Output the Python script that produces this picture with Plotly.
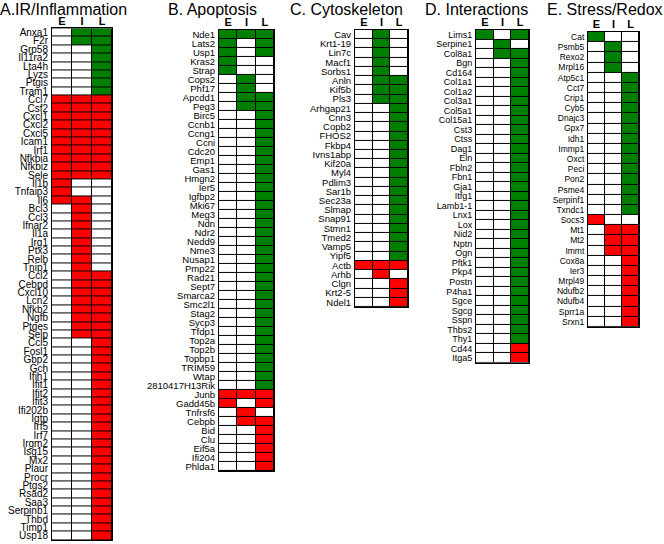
import plotly.graph_objects as go

# ---------------- data ----------------
# codes: 0 = no change (white), 1 = green, 2 = red
columns = ["E", "I", "L"]

a_title = "A.IR/Inflammation"
a_genes = ["Anxa1", "F2r", "Grp58", "Il11ra2", "Lta4h", "Lyzs", "Ptgis", "Tram1",
           "Ccl7", "Csf2", "Cxcl1", "Cxcl2", "Cxcl5", "Icam1", "Irf1", "Nfkbia", "Nfkbiz", "Sele",
           "Il1b", "Tnfaip3", "Il6",
           "Bcl3", "Ccl3", "Ifnar2", "Il1a", "Irg1", "Ptx3", "Relb", "Tnip1",
           "Ccl2", "Cebpd", "Cxcl10", "Lcn2", "Nfkb2", "Ngfb", "Ptges", "Selp",
           "Ccl5", "Fosl1", "Gbp2", "Gch", "Ifih1", "Ifit1", "Ifit2", "Ifit3", "Ifi202b", "Igtp",
           "Irf5", "Irf7", "Irgm2", "Isg15", "Mx2", "Plaur", "Procr", "Ptgs2", "Rsad2", "Saa3",
           "Serpinb1", "Thbd", "Timp1", "Usp18"]
a_E = [0]*8 + [2]*10 + [2, 2, 2] + [0]*8 + [0]*8 + [0]*24
a_I = [1, 1] + [0]*6 + [2]*10 + [0, 0, 2] + [2]*8 + [2]*8 + [0]*24
a_L = [1]*8 + [2]*10 + [0, 0, 0] + [0]*8 + [2]*8 + [2]*24

b_title = "B. Apoptosis"
b_genes = ["Nde1", "Lats2", "Usp1", "Kras2", "Strap", "Cops2", "Phf17", "Apcdd1", "Peg3",
           "Birc5", "Ccnb1", "Ccng1", "Ccni", "Cdc20", "Emp1", "Gas1", "Hmgn2", "Ier5", "Igfbp2",
           "Mki67", "Meg3", "Ndn", "Ndr2", "Nedd9", "Nme3", "Nusap1", "Pmp22", "Rad21", "Sept7",
           "Smarca2", "Smc2l1", "Stag2", "Sycp3", "Tfdp1", "Top2a", "Top2b", "Topbp1", "TRIM59",
           "Wtap", "2810417H13Rik",
           "Junb", "Gadd45b", "Tnfrsf6", "Cebpb", "Bid", "Clu", "Eif5a", "Ifi204", "Phlda1"]
b_E = [1, 1, 1, 1, 1, 0, 0, 0, 0] + [0]*31 + [2, 2, 0, 0, 0, 0, 0, 0, 0]
b_I = [1, 0, 0, 0, 0, 1, 1, 1, 1] + [0]*31 + [2, 0, 2, 2, 0, 0, 0, 0, 0]
b_L = [1, 1, 1, 0, 0, 0, 0, 1, 1] + [1]*31 + [2, 2, 0, 2, 2, 2, 2, 2, 2]

c_title = "C. Cytoskeleton"
c_genes = ["Cav", "Krt1-19", "Lin7c", "Macf1", "Sorbs1", "Anln", "Kif5b", "Pls3",
           "Arhgap21", "Cnn3", "Copb2", "FHOS2", "Fkbp4", "Ivns1abp", "Kif20a", "Myl4", "Pdlim3",
           "Sar1b", "Sec23a", "Slmap", "Snap91", "Stmn1", "Tmed2", "Vamp5", "Yipf5",
           "Actb", "Arhb", "Clgn", "Krt2-5", "Ndel1"]
c_E = [0]*8 + [0]*17 + [2, 0, 0, 0, 0]
c_I = [1]*8 + [0]*17 + [2, 2, 0, 0, 0]
c_L = [0]*5 + [1]*3 + [1]*17 + [2, 0, 2, 2, 2]

d_title = "D. Interactions"
d_genes = ["Lims1", "Serpine1", "Col8a1", "Bgn", "Cd164", "Col1a1", "Col1a2", "Col3a1",
           "Col5a1", "Col15a1", "Cst3", "Ctss", "Dag1", "Eln", "Fbln2", "Fbn1", "Gja1", "Itfg1",
           "Lamb1-1", "Lnx1", "Lox", "Nid2", "Nptn", "Ogn", "Pftk1", "Pkp4", "Postn", "P4ha1",
           "Sgce", "Sgcg", "Sspn", "Thbs2", "Thy1", "Cd44", "Itga5"]
d_E = [1, 0, 0] + [0]*30 + [0, 0]
d_I = [0, 1, 1] + [0]*30 + [0, 0]
d_L = [1, 0, 1] + [1]*30 + [2, 2]

e_title = "E. Stress/Redox"
e_genes = ["Cat", "Psmb5", "Rexo2", "Mrpl16", "Atp5c1", "Cct7", "Crip1", "Cyb5", "Dnajc3",
           "Gpx7", "Idh1", "Immp1", "Oxct", "Peci", "Pon2", "Psme4", "Serpinf1", "Txndc1",
           "Socs3", "Mt1", "Mt2", "Immt", "Cox8a", "Ier3", "Mrpl49", "Ndufb2", "Ndufb4",
           "Sprr1a", "Srxn1"]
e_E = [1, 0, 0, 0] + [0]*14 + [2] + [0, 0, 0] + [0]*7
e_I = [0, 1, 1, 1] + [0]*14 + [0] + [2, 2, 2] + [0]*7
e_L = [0, 0, 0, 0] + [1]*14 + [0] + [2, 2, 2] + [2]*7

# ---------------- layout (pixel boxes) ----------------
W, H = 664, 544
GREEN = "#008000"
RED = "#ff0000"
FONT = "Liberation Sans, Arial, Helvetica, sans-serif"

panels = [
    # title, genes, E, I, L, grid x0, x1, y0, y1, label size, title x, title anchor
    (a_title, a_genes, a_E, a_I, a_L, 52, 112, 27.5, 541, 10, -2, "left"),
    (b_title, b_genes, b_E, b_I, b_L, 219, 274, 29, 472, 9.5, 166, "left"),
    (c_title, c_genes, c_E, c_I, c_L, 355, 408, 29, 307, 9.5, 288, "left"),
    (d_title, d_genes, d_E, d_I, d_L, 476, 529, 29, 363, 9, 423, "left"),
    (e_title, e_genes, e_E, e_I, e_L, 588, 639, 31, 327, 8.5, 665, "right"),
]

colorscale = [[0, "white"], [0.33, "white"], [0.33, GREEN], [0.67, GREEN],
              [0.67, RED], [1, RED]]

fig = go.Figure()
layout_axes = {}
annotations = []
for k, (title, genes, E, I, L, x0, x1, y0, y1, fs, tx, ta) in enumerate(panels, start=1):
    z = [[e, i, l] for e, i, l in zip(E, I, L)]
    sfx = "" if k == 1 else str(k)
    fig.add_trace(go.Heatmap(
        z=z, x=columns, y=genes, zmin=0, zmax=2, colorscale=colorscale,
        showscale=False, xgap=1, ygap=1, hoverinfo="skip",
        xaxis="x" + sfx, yaxis="y" + sfx,
    ))
    layout_axes["xaxis" + sfx] = dict(
        domain=[x0 / W, x1 / W], anchor="y" + sfx, side="top", type="category",
        tickmode="array", tickvals=columns, ticktext=["<b>%s</b>" % c for c in columns],
        tickfont=dict(family=FONT, size=11, color="black"),
        showline=True, mirror=True, linecolor="black", linewidth=1,
        showgrid=False, zeroline=False, ticks="", ticklabelstandoff=-2,
    )
    layout_axes["yaxis" + sfx] = dict(
        domain=[1 - y1 / H, 1 - y0 / H], anchor="x" + sfx, type="category",
        autorange="reversed", tickmode="array", tickvals=genes, ticktext=genes,
        tickfont=dict(family=FONT, size=fs, color="black"),
        showline=True, mirror=True, linecolor="black", linewidth=1,
        showgrid=False, zeroline=False, ticks="", ticklabelstandoff=1,
    )
    annotations.append(dict(
        text=title, xref="paper", yref="paper", x=tx / W, y=1 - 8.5 / H,
        xanchor=ta, yanchor="middle", showarrow=False,
        font=dict(family=FONT, size=16, color="black"),
    ))

fig.update_layout(
    width=W, height=H, autosize=False,
    margin=dict(l=0, r=0, t=0, b=0, pad=0),
    paper_bgcolor="white", plot_bgcolor="black",
    showlegend=False, annotations=annotations,
    **layout_axes,
)

fig.write_html(
    "out.html",
    config={"displayModeBar": False, "staticPlot": True},
    post_script="document.body.style.margin='0px';document.body.style.overflow='hidden';",
)
